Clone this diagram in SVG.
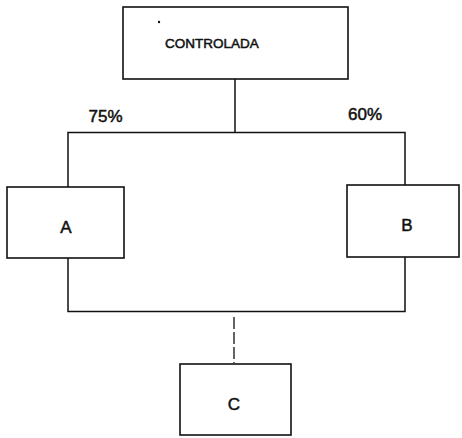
<svg xmlns="http://www.w3.org/2000/svg" width="462" height="438" viewBox="0 0 462 438">
<style>
.box{fill:#fff;stroke:#111;stroke-width:1.6}
.lbl{font-family:"Liberation Sans",Arial,sans-serif;fill:#111;stroke:#111;stroke-width:0.5;text-anchor:middle}
.conn{fill:none;stroke:#111;stroke-width:1.5}
.dash{fill:none;stroke:#111;stroke-width:1.3;stroke-dasharray:12 3}
</style>
<rect width="462" height="438" fill="#fff"/>
<g id="connectors">
<path class="conn" d="M235 79 V132"/>
<path class="conn" d="M68 187 V132.5 H405 V185"/>
<path class="conn" d="M68 258 V311.5 H405 V257"/>
<path class="dash" d="M234 317 V363"/>
</g>
<g id="controlada">
<rect class="box" x="123" y="7" width="225" height="72"/>
<circle cx="159" cy="22" r="1.2" fill="#111"/>
<text class="lbl" x="212" y="48" font-size="13.5">CONTROLADA</text>
</g>
<g id="label75"><text class="lbl" x="105.5" y="122" font-size="17">75%</text></g>
<g id="label60"><text class="lbl" x="365" y="120" font-size="17">60%</text></g>
<g id="nodeA">
<rect class="box" x="7" y="187" width="117" height="71"/>
<text class="lbl" x="66" y="233" font-size="17">A</text>
</g>
<g id="nodeB">
<rect class="box" x="347" y="185" width="112" height="72"/>
<text class="lbl" x="407" y="231" font-size="17">B</text>
</g>
<g id="nodeC">
<rect class="box" x="180" y="364" width="111" height="71"/>
<text class="lbl" x="234" y="410" font-size="17">C</text>
</g>
</svg>
